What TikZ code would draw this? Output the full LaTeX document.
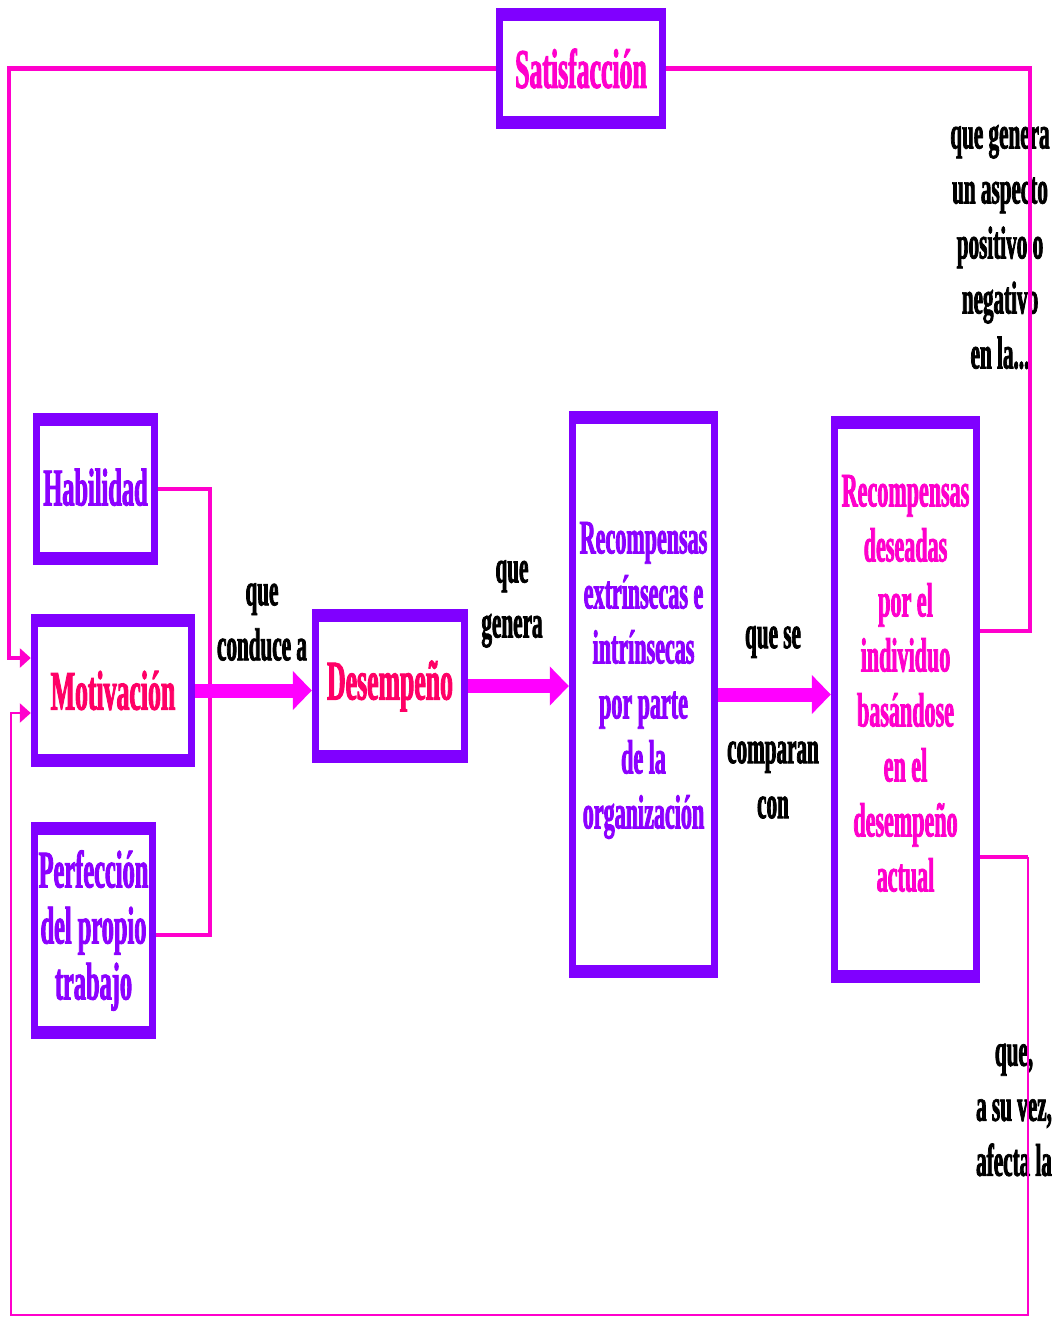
\documentclass[tikz,border=0pt]{standalone}
\usepackage{fontspec}
\newfontfamily\condserif[FakeStretch=0.46, FakeBold=1.6]{Liberation Serif}
\usetikzlibrary{arrows.meta, calc}

\definecolor{boxviolet}{HTML}{8000FF}
\definecolor{linkpink}{HTML}{FF00CC}
\definecolor{arrowmag}{HTML}{FF00FF}
\definecolor{txtred}{HTML}{FF0066}
\definecolor{txtmag}{HTML}{FF00CC}
\definecolor{txtviolet}{HTML}{8C00FF}

\tikzset{
  box/.style={rectangle, inner sep=0pt, fill=boxviolet,
    path picture={\fill[white] ([xshift=7pt,yshift=-13pt]path picture bounding box.north west)
      rectangle ([xshift=-7pt,yshift=13pt]path picture bounding box.south east);}},
  bigtxt/.style={font=\condserif\bfseries\fontsize{56}{56}\selectfont, align=center},
  midtxt/.style={font=\condserif\bfseries\fontsize{53}{56}\selectfont, align=center},
  rectxt/.style={font=\condserif\bfseries\fontsize{48}{55}\selectfont, align=center, inner sep=0pt},
  blacktxt/.style={font=\condserif\bfseries\fontsize{46}{55}\selectfont, align=center, inner sep=0pt},
  link/.style={draw=linkpink, line width=4.5pt},
  thinlink/.style={draw=linkpink, line width=2.5pt},
  smallhead/.style={-{Triangle[length=11pt,width=19pt]}},
  bigarrow/.style={draw=arrowmag, line width=14pt, -{Triangle[length=19pt,width=38pt]}}
}

\begin{document}
\begin{tikzpicture}[x=1pt, y=-1pt]
  \useasboundingbox (0,0) rectangle (1058,1317);

  % boxes
  \node[box, minimum width=170pt, minimum height=121pt, text=txtmag, bigtxt] (sat) at (581,68.5) {Satisfacción};
  \node[box, minimum width=125pt, minimum height=152pt, text=txtviolet, midtxt] (hab) at (95.5,489) {\raisebox{4pt}{Habilidad}};
  \node[box, minimum width=164pt, minimum height=153pt, text=txtred, bigtxt] (mot) at (113,690.5) {Motivación};
  \node[box, minimum width=125pt, minimum height=217pt, text=txtviolet, midtxt] (per) at (93.5,930.5) {Perfección\\del propio\\trabajo};
  \node[box, minimum width=156pt, minimum height=154pt, text=txtred, bigtxt] (des) at (390,686) {Desempeño};
  \node[box, minimum width=149pt, minimum height=567pt] (rext) at (643.5,694.5) {};
  \node[box, minimum width=149pt, minimum height=567pt] (rdes) at (905.5,699.5) {};

  \node[rectxt, text=txtviolet] (trext) at ([yshift=14pt]rext.center)
    {Recompensas\\extrínsecas e\\intrínsecas\\por parte\\de la\\organización};
  \node[rectxt, text=txtmag] (trdes) at ([yshift=16pt]rdes.center)
    {Recompensas\\deseadas\\por el\\individuo\\basándose\\en el\\desempeño\\actual};

  % black labels
  \node[blacktxt] (lconduce) at (262,622) {que\\conduce a};
  \node[blacktxt] (lgenera) at (512,604) {que\\genera};
  \node[blacktxt] (lquese) at (773,642) {que se};
  \node[blacktxt] (lcomparan) at (773,780) {comparan\\con};
  \node[blacktxt] (laspecto) at (1000,247) {que genera\\un aspecto\\positivo o\\negativo\\en la...};
  \node[blacktxt] (lafecta) at (1014,1110) {que,\\a su vez,\\afecta la};

  % corner points of the loops
  \coordinate (lt) at (9,658);
  \coordinate (lb) at (11,713);
  \coordinate (rt) at (1030,631);
  \coordinate (rb) at (1028,857);
  \coordinate (cb) at (1028,1315);
  \coordinate (hj) at (210,935);

  % feedback lines
  \draw[link, smallhead] (sat.west) -| (lt) -- (lt -| mot.west);
  \draw[link] (sat.east) -| (rt) -- (rt -| rdes.east);
  \draw[link] (rb -| rdes.east) -- (rb);
  \draw[thinlink, smallhead] (rb) -- (cb) -| (lb) -- (lb -| mot.west);
  \draw[link] (hab.east) -| (hj) -- (hj -| per.east);

  % main flow
  \draw[bigarrow] (mot.east) -- (mot.east -| des.west);
  \draw[bigarrow] (des.east) -- (des.east -| rext.west);
  \draw[bigarrow] (rext.east) -- (rext.east -| rdes.west);
\end{tikzpicture}
\end{document}
